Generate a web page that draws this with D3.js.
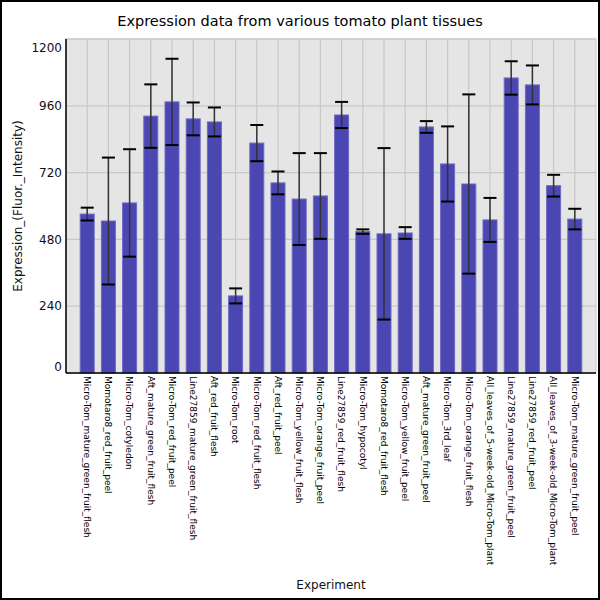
<!DOCTYPE html>
<html>
<head>
<meta charset="utf-8">
<script src="https://cdn.jsdelivr.net/npm/d3@7"></script>
<style>
  body { margin: 0; background: #fff; }
  svg { display: block; font-family: "DejaVu Sans", sans-serif; }
</style>
</head>
<body>
<svg id="chart" width="600" height="600"></svg>
<script>
// tissues along the x axis
const tissues = [
  "Micro-Tom_mature_green_fruit_flesh",
  "Momotaro8_red_fruit_peel",
  "Micro-Tom_cotyledon",
  "Aft_mature_green_fruit_flesh",
  "Micro-Tom_red_fruit_peel",
  "Line27859_mature_green_fruit_flesh",
  "Aft_red_fruit_flesh",
  "Micro-Tom_root",
  "Micro-Tom_red_fruit_flesh",
  "Aft_red_fruit_peel",
  "Micro-Tom_yellow_fruit_flesh",
  "Micro-Tom_orange_fruit_peel",
  "Line27859_red_fruit_flesh",
  "Micro-Tom_hypocotyl",
  "Momotaro8_red_fruit_flesh",
  "Micro-Tom_yellow_fruit_peel",
  "Aft_mature_green_fruit_peel",
  "Micro-Tom_3rd_leaf",
  "Micro-Tom_orange_fruit_flesh",
  "All_leaves_of_5-week-old_Micro-Tom_plant",
  "Line27859_mature_green_fruit_peel",
  "Line27859_red_fruit_peel",
  "All_leaves_of_3-week-old_Micro-Tom_plant",
  "Micro-Tom_mature_green_fruit_peel"
];
// mean expression
const expression = [571, 546, 611, 923, 974, 913, 902, 277, 826, 683, 625, 636,
                    927, 508, 500, 503, 884, 751, 679, 550, 1060, 1035, 673, 553];
// error (+/-)
const errors = [23, 228, 193, 114, 155, 59, 52, 27, 65, 41, 165, 154,
                47, 8, 308, 21, 21, 135, 322, 79, 60, 70, 39, 37];
const yTicks = [0, 240, 480, 720, 960, 1200];

const svg = d3.select("#chart");
const pLeft = 66, pRight = 596, pTop = 39, pBottom = 373;

// outer frame
svg.append("rect")
  .attr("x", 1).attr("y", 1).attr("width", 598).attr("height", 598)
  .attr("fill", "#fff").attr("stroke", "#000").attr("stroke-width", 2);

const x = d3.scalePoint().domain(tissues).range([pLeft, pRight]).padding(1);
const y = d3.scaleLinear().domain([0, 1200]).range([pBottom, pTop]);

// plot background
svg.append("rect")
  .attr("x", pLeft).attr("y", pTop)
  .attr("width", pRight - pLeft).attr("height", pBottom - pTop)
  .attr("fill", "#e5e5e5").attr("stroke", "#c8c8c8");

// grid
svg.append("g").selectAll("line").data(yTicks).enter().append("line")
  .attr("x1", pLeft).attr("x2", pRight)
  .attr("y1", d => y(d)).attr("y2", d => y(d))
  .attr("stroke", "#c8c8c8").attr("stroke-width", 1.2);
svg.append("g").selectAll("line").data(tissues).enter().append("line")
  .attr("x1", d => x(d)).attr("x2", d => x(d))
  .attr("y1", pTop).attr("y2", pBottom)
  .attr("stroke", "#c8c8c8").attr("stroke-width", 1.2);

// bars
const bw = x.step() * 0.66;
svg.append("g").selectAll("rect").data(tissues).enter().append("rect")
  .attr("x", d => x(d) - bw / 2)
  .attr("y", (d, i) => y(expression[i]))
  .attr("width", bw)
  .attr("height", (d, i) => y(0) - y(expression[i]))
  .attr("fill", "#4a46b2")
  .attr("stroke", "#6c69c3").attr("stroke-width", 1);

// error bars
const eb = svg.append("g");
const capW = 6.5;
tissues.forEach(function (t, i) {
  const cx = x(t);
  const hi = y(expression[i] + errors[i]);
  const lo = y(expression[i] - errors[i]);
  eb.append("line").attr("x1", cx).attr("x2", cx).attr("y1", hi).attr("y2", lo)
    .attr("stroke", "#333").attr("stroke-width", 1.5);
  [hi, lo].forEach(function (yy) {
    eb.append("line").attr("x1", cx - capW).attr("x2", cx + capW)
      .attr("y1", yy).attr("y2", yy)
      .attr("stroke", "#000").attr("stroke-width", 2);
  });
});

// axes lines
svg.append("line").attr("x1", pLeft).attr("x2", pLeft).attr("y1", pTop).attr("y2", pBottom)
  .attr("stroke", "#000").attr("stroke-width", 1.5);
svg.append("line").attr("x1", pLeft).attr("x2", pRight).attr("y1", pBottom).attr("y2", pBottom)
  .attr("stroke", "#000").attr("stroke-width", 1.5);

// y tick labels (end labels kept inside the plot)
svg.append("g").selectAll("text").data(yTicks).enter().append("text")
  .attr("x", 62)
  .attr("y", d => Math.min(Math.max(y(d), pTop + 9), pBottom - 6))
  .attr("dy", "0.35em")
  .attr("text-anchor", "end")
  .attr("font-size", 12)
  .attr("fill", "#111")
  .text(d => d);

// x tick labels
svg.append("g").selectAll("text").data(tissues).enter().append("text")
  .attr("transform", d => "translate(" + x(d) + "," + 376 + ") rotate(90)")
  .attr("dy", "0.35em")
  .attr("font-size", 9)
  .attr("fill", "#000")
  .text(d => d);

// titles
svg.append("text")
  .attr("x", 300).attr("y", 26)
  .attr("text-anchor", "middle")
  .attr("font-size", 14.5)
  .attr("fill", "#000")
  .text("Expression data from various tomato plant tissues");
svg.append("text")
  .attr("transform", "translate(22," + ((pTop + pBottom) / 2) + ") rotate(-90)")
  .attr("text-anchor", "middle")
  .attr("font-size", 12)
  .attr("fill", "#111")
  .text("Expression_(Fluor._Intensity)");
svg.append("text")
  .attr("x", (pLeft + pRight) / 2).attr("y", 589)
  .attr("text-anchor", "middle")
  .attr("font-size", 12)
  .attr("fill", "#111")
  .text("Experiment");
</script>
</body>
</html>
